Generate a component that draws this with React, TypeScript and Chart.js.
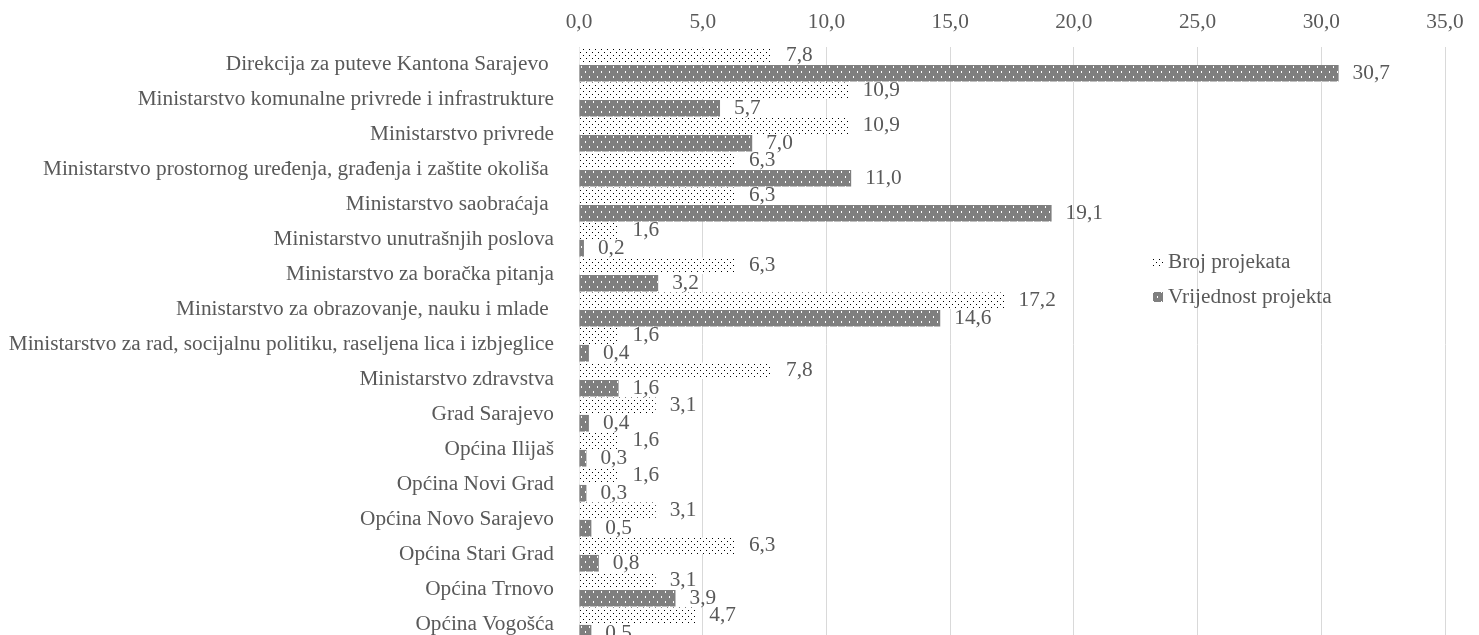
import React, { useEffect, useRef } from "react";
import { Chart, registerables } from "chart.js";

Chart.register(...registerables);

const categories = [
  "Direkcija za puteve Kantona Sarajevo ",
  "Ministarstvo komunalne privrede i infrastrukture",
  "Ministarstvo privrede",
  "Ministarstvo prostornog uređenja, građenja i zaštite okoliša ",
  "Ministarstvo saobraćaja ",
  "Ministarstvo unutrašnjih poslova",
  "Ministarstvo za boračka pitanja",
  "Ministarstvo za obrazovanje, nauku i mlade ",
  "Ministarstvo za rad, socijalnu politiku, raseljena lica i izbjeglice",
  "Ministarstvo zdravstva",
  "Grad Sarajevo",
  "Općina Ilijaš",
  "Općina Novi Grad",
  "Općina Novo Sarajevo",
  "Općina Stari Grad",
  "Općina Trnovo",
  "Općina Vogošća",
];

const brojProjekata = [7.8, 10.9, 10.9, 6.3, 6.3, 1.6, 6.3, 17.2, 1.6, 7.8, 3.1, 1.6, 1.6, 3.1, 6.3, 3.1, 4.7];
const vrijednostProjekta = [30.7, 5.7, 7.0, 11.0, 19.1, 0.2, 3.2, 14.6, 0.4, 1.6, 0.4, 0.3, 0.3, 0.5, 0.8, 3.9, 0.5];

const seriesNames = ["Broj projekata", "Vrijednost projekta"];
const xTicks = [0, 5, 10, 15, 20, 25, 30, 35];

const FONT = "'Liberation Serif', 'Times New Roman', serif";
const FS = 21.3;
const TEXT = "#595959";

function makeDotPattern(): CanvasPattern | string {
  const c = document.createElement("canvas");
  c.width = 6;
  c.height = 6;
  const g = c.getContext("2d");
  if (!g) return "#fff";
  g.fillStyle = "#ffffff";
  g.fillRect(0, 0, 6, 6);
  g.fillStyle = "#000000";
  g.fillRect(1, 1, 1, 1);
  g.fillRect(4, 4, 1, 1);
  return g.createPattern(c, "repeat") || "#fff";
}

function makeGrayPattern(): CanvasPattern | string {
  const c = document.createElement("canvas");
  c.width = 8;
  c.height = 10;
  const g = c.getContext("2d");
  if (!g) return "#7f7f7f";
  g.fillStyle = "#7f7f7f";
  g.fillRect(0, 0, 8, 10);
  g.fillStyle = "#ffffff";
  g.fillRect(1, 1, 1, 2);
  g.fillRect(5, 6, 1, 2);
  return g.createPattern(c, "repeat") || "#7f7f7f";
}

const fmt = (v: number) => v.toFixed(1).replace(".", ",");

export default function App() {
  const ref = useRef<HTMLCanvasElement | null>(null);

  useEffect(() => {
    if (!ref.current) return;
    const dots = makeDotPattern();
    const gray = makeGrayPattern();
    const fills = [dots, gray];

    const labelPlugin = {
      id: "valueLabels",
      afterDatasetsDraw(chart: any) {
        const ctx = chart.ctx;
        ctx.save();
        ctx.font = `${FS}px ${FONT}`;
        ctx.fillStyle = TEXT;
        ctx.textAlign = "left";
        ctx.textBaseline = "middle";
        chart.data.datasets.forEach((ds: any, di: number) => {
          const meta = chart.getDatasetMeta(di);
          meta.data.forEach((bar: any, i: number) => {
            ctx.fillText(fmt(ds.data[i]), bar.x + 14, bar.y);
          });
        });
        ctx.restore();
      },
    };

    const legendPlugin = {
      id: "customLegend",
      afterDraw(chart: any) {
        const ctx = chart.ctx;
        ctx.save();
        ctx.font = `${FS}px ${FONT}`;
        ctx.textBaseline = "middle";
        ctx.textAlign = "left";
        const x0 = 1153;
        const ys = [262, 297];
        seriesNames.forEach((name, i) => {
          const y = ys[i];
          ctx.fillStyle = fills[i];
          ctx.fillRect(x0, y - 5, 10, 10);
          ctx.fillStyle = TEXT;
          ctx.fillText(name, x0 + 15, y);
        });
        ctx.restore();
      },
    };

    const chart = new Chart(ref.current, {
      type: "bar",
      data: {
        labels: categories,
        datasets: [
          {
            label: seriesNames[0],
            data: brojProjekata,
            backgroundColor: dots as any,
            categoryPercentage: 1.0,
            barPercentage: 0.95,
          },
          {
            label: seriesNames[1],
            data: vrijednostProjekta,
            backgroundColor: gray as any,
            categoryPercentage: 1.0,
            barPercentage: 0.95,
          },
        ],
      },
      options: {
        indexAxis: "y",
        responsive: false,
        animation: false,
        layout: { padding: { left: 0, right: 34, top: 0, bottom: 8 } },
        plugins: {
          legend: { display: false },
          tooltip: { enabled: false },
        },
        scales: {
          x: {
            position: "top",
            min: 0,
            max: 35,
            afterBuildTicks(scale: any) {
              scale.ticks = xTicks.map((v) => ({ value: v }));
            },
            afterFit(scale: any) {
              scale.height = 47;
              scale.paddingLeft = 0;
              scale.paddingRight = 0;
            },
            ticks: {
              font: { family: FONT, size: FS },
              color: TEXT,
              padding: 12,
              maxRotation: 0,
              callback: (v: any) => fmt(Number(v)),
            },
            grid: { color: "#d9d9d9", lineWidth: 1, drawTicks: false },
            border: { display: false },
          },
          y: {
            afterFit(scale: any) {
              scale.width = 579;
              scale.paddingTop = 0;
              scale.paddingBottom = 0;
            },
            ticks: {
              font: { family: FONT, size: FS },
              color: TEXT,
              padding: 17,
              autoSkip: false,
            },
            grid: { display: false },
            border: { display: false },
          },
        },
      },
      plugins: [labelPlugin, legendPlugin],
    });
    return () => chart.destroy();
  }, []);

  return (
    <div style={{ position: "fixed", left: 0, top: 0, width: 1479, height: 650, background: "#fff" }}>
      <canvas ref={ref} width={1479} height={650} style={{ display: "block" }} />
    </div>
  );
}
